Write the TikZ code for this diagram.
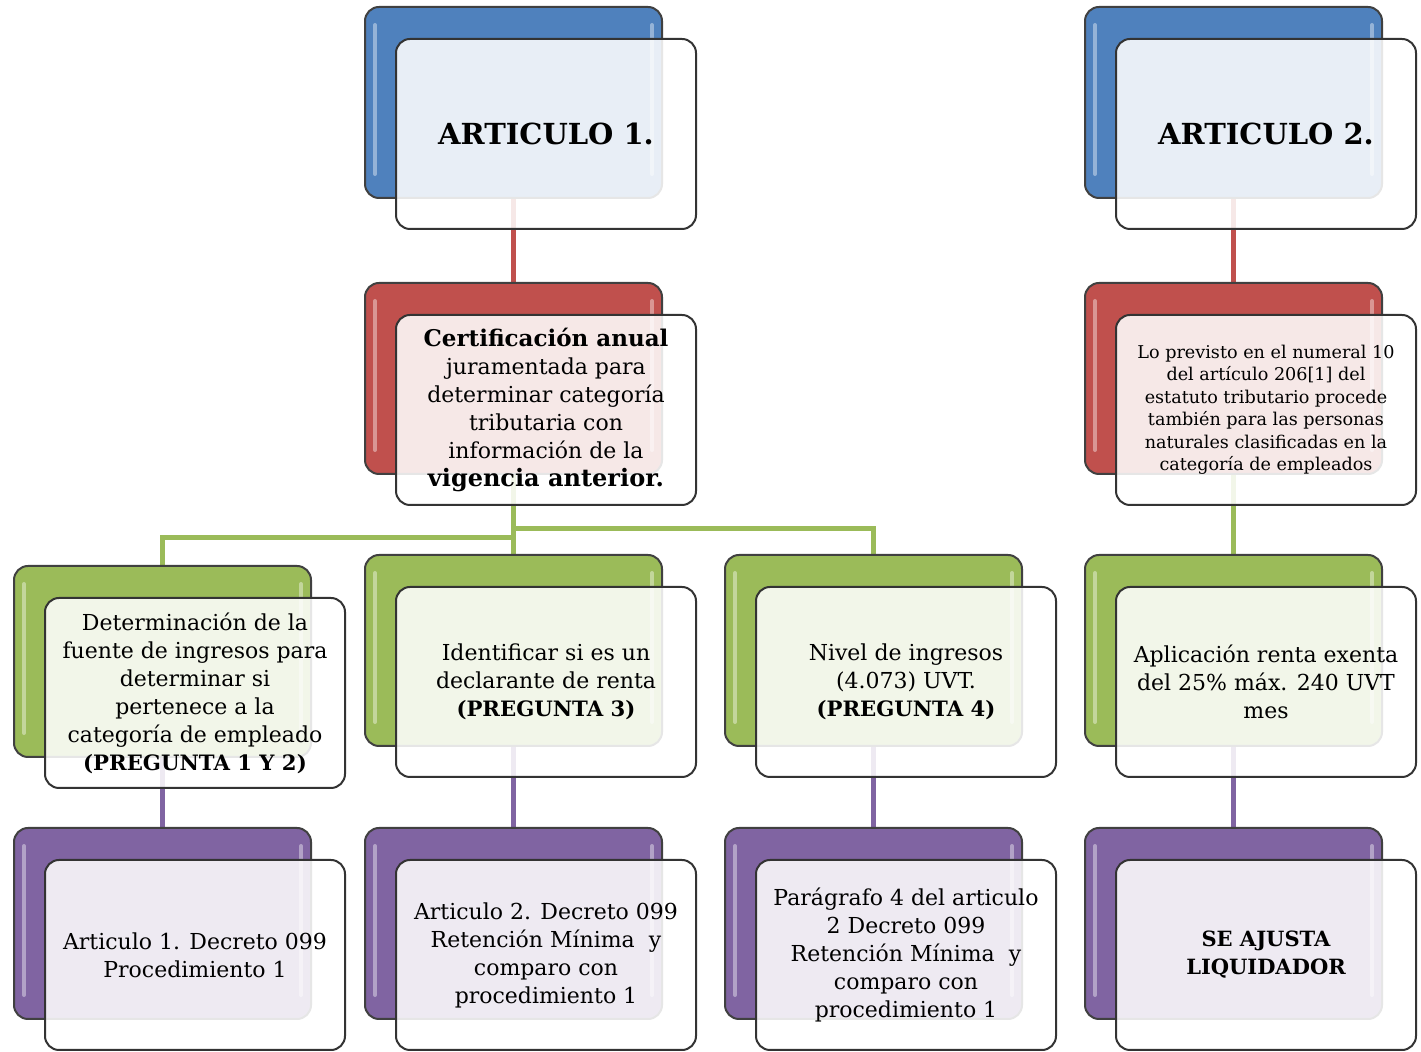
\documentclass[tikz,border=0pt]{standalone}
\usepackage{fontspec}
\setmainfont{DejaVu Serif}
\usetikzlibrary{positioning,backgrounds}
\definecolor{accblue}{HTML}{4F81BD}
\definecolor{accred}{HTML}{C0504D}
\definecolor{accgreen}{HTML}{9BBB59}
\definecolor{accpurple}{HTML}{8064A2}
\begin{document}
\begin{tikzpicture}[
  x=0.5pt, y=-0.5pt,
  back/.style  = {draw=black!75, line width=1pt, rounded corners=7pt,
                  fill=#1, minimum width=148.5pt, minimum height=95.5pt,
                  anchor=north west, outer sep=0pt, inner sep=0pt,
                  path picture={\draw[white, draw opacity=.4, line width=2pt, line cap=round]
                     ([shift={(5pt,-9pt)}]path picture bounding box.north west)
                       -- ([shift={(5pt,12pt)}]path picture bounding box.south west)
                     ([shift={(-5pt,-9pt)}]path picture bounding box.north east)
                       -- ([shift={(-5pt,12pt)}]path picture bounding box.south east);}},
  front/.style = {draw=black!80, line width=1pt, rounded corners=7pt,
                  fill=white, fill opacity=.87, text opacity=1,
                  minimum width=150pt, minimum height=95pt, outer sep=0pt,
                  inner sep=2pt, align=center, font=\fontsize{11}{14}\selectfont,
                  below right=16pt and 15.5pt of #1},
  link/.style  = {draw=#1, line width=2.5pt},
  title/.style = {font=\fontsize{14.5}{18}\selectfont\bfseries}]

\newcommand\pregunta[1]{{\fontsize{10.6}{14}\selectfont\bfseries #1}}

\useasboundingbox (0,0) rectangle (1421,1052);

% back boxes
\node [back=accblue]   (b12) at (365,7)    {};
\node [back=accblue]   (b14) at (1085,7)   {};
\node [back=accred]    (b22) at (365,283)  {};
\node [back=accred]    (b24) at (1085,283) {};
\node [back=accgreen]  (b31) at (14,566)   {};
\node [back=accgreen]  (b32) at (365,555)  {};
\node [back=accgreen]  (b33) at (725,555)  {};
\node [back=accgreen]  (b34) at (1085,555) {};
\node [back=accpurple] (b41) at (14,828)   {};
\node [back=accpurple] (b42) at (365,828)  {};
\node [back=accpurple] (b43) at (725,828)  {};
\node [back=accpurple] (b44) at (1085,828) {};

% front boxes
\node [front=b12.north west, title] (f12) {ARTICULO 1.};
\node [front=b14.north west, title] (f14) {ARTICULO 2.};
\node [front=b22.north west] (f22)
  {{\fontsize{11.5}{14}\selectfont\bfseries Certificación anual}\\ juramentada para\\
   determinar categoría\\ tributaria con\\ información de la\\
   {\fontsize{12}{14}\selectfont\bfseries vigencia anterior.}};
\node [front=b24.north west, font=\fontsize{8.8}{11.25}\selectfont] (f24)
  {Lo previsto en el numeral 10\\ del artículo 206[1] del\\ estatuto tributario procede\\
   también para las personas\\ naturales clasificadas en la\\ categoría de empleados};
\node [front=b31.north west] (f31)
  {Determinación de la\\ fuente de ingresos para\\ determinar si\\ pertenece a la\\
   categoría de empleado\\ \pregunta{(PREGUNTA 1 Y 2)}};
\node [front=b32.north west] (f32)
  {Identificar si es un\\ declarante de renta\\ \pregunta{(PREGUNTA 3)}};
\node [front=b33.north west] (f33)
  {Nivel de ingresos\\ (4.073) UVT.\\ \pregunta{(PREGUNTA 4)}};
\node [front=b34.north west] (f34)
  {Aplicación renta exenta\\ del 25\% máx. 240 UVT\\ mes};
\node [front=b41.north west] (f41)
  {Articulo 1. Decreto 099\\ Procedimiento 1};
\node [front=b42.north west] (f42)
  {Articulo 2. Decreto 099\\ Retención Mínima \ y\\ comparo con\\ procedimiento 1};
\node [front=b43.north west] (f43)
  {Parágrafo 4 del articulo\\ 2 Decreto 099\\ Retención Mínima \ y\\ comparo con\\ procedimiento 1};
\node [front=b44.north west, font=\fontsize{10.5}{14}\selectfont\bfseries] (f44)
  {SE AJUSTA\\ LIQUIDADOR};

% connectors
\begin{scope}[on background layer]
\draw [link=accred]    (b12.south) -- (b22.north);
\draw [link=accred]    (b14.south) -- (b24.north);
\draw [link=accgreen]  (b22.south) -- ++(0,64) -| (b31.north);
\draw [link=accgreen]  (b22.south) -- (b32.north);
\draw [link=accgreen]  (b22.south) -- ++(0,55) -| (b33.north);
\draw [link=accgreen]  (b24.south) -- (b34.north);
\draw [link=accpurple] (b31.south) -- (b41.north);
\draw [link=accpurple] (b32.south) -- (b42.north);
\draw [link=accpurple] (b33.south) -- (b43.north);
\draw [link=accpurple] (b34.south) -- (b44.north);
\end{scope}
\end{tikzpicture}
\end{document}
